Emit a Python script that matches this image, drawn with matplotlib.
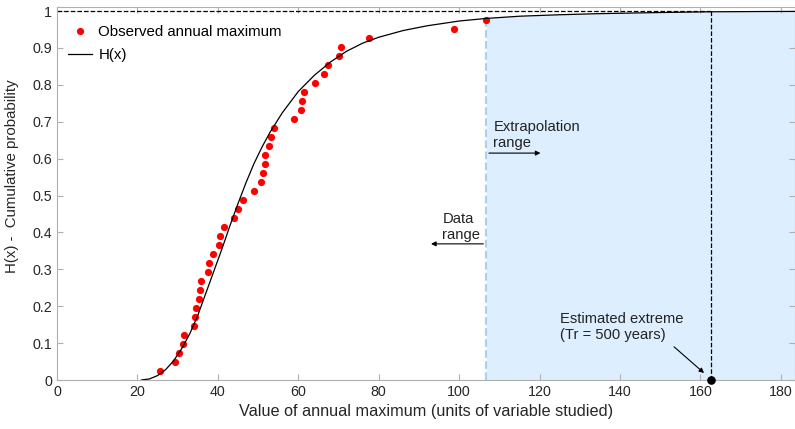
import numpy as np
import matplotlib
matplotlib.use('Agg')
import matplotlib.pyplot as plt

plt.rcParams['font.family'] = ['Liberation Sans', 'DejaVu Sans']
plt.rcParams['font.size'] = 10.6

# Observed annual maxima (sorted) and their plotting positions
obs_x = [25.6, 29.3, 30.3, 31.4, 31.5, 34.0, 34.3, 34.5, 35.3, 35.5,
         35.8, 37.6, 37.9, 38.7, 40.4, 40.6, 41.6, 44.0, 44.9, 46.3,
         49.1, 50.6, 51.3, 51.6, 51.8, 52.6, 53.2, 53.9, 59.0, 60.6,
         60.9, 61.3, 64.1, 66.3, 67.5, 70.1, 70.6, 77.5, 98.8, 106.7]
obs_p = [0.024, 0.049, 0.073, 0.098, 0.122, 0.146, 0.171, 0.195, 0.220, 0.244,
         0.268, 0.293, 0.317, 0.341, 0.366, 0.390, 0.415, 0.439, 0.463, 0.488,
         0.512, 0.537, 0.561, 0.585, 0.610, 0.634, 0.659, 0.683, 0.707, 0.732,
         0.756, 0.780, 0.805, 0.829, 0.854, 0.878, 0.902, 0.927, 0.951, 0.976]

# Fitted distribution H(x)
h_x = [21, 23, 25, 27, 29, 31, 33, 35, 37, 39, 41, 43, 45, 47, 49, 51, 53,
       56, 60, 64, 68, 72, 76, 80, 86, 92, 100, 106.7, 115, 125, 135, 150,
       162.7, 175, 183.5]
h_y = [0.0, 0.003, 0.012, 0.028, 0.052, 0.085, 0.125, 0.175, 0.235, 0.295,
       0.355, 0.418, 0.478, 0.535, 0.587, 0.632, 0.672, 0.724, 0.782, 0.826,
       0.862, 0.891, 0.913, 0.929, 0.947, 0.960, 0.973, 0.980, 0.986, 0.990,
       0.993, 0.996, 0.998, 0.9987, 0.999]

x_max_obs = 106.7
x_extreme = 162.7   # Tr = 500 years

fig = plt.figure(figsize=(7.95, 4.29), dpi=100)
ax = fig.add_axes([0.0717, 0.1142, 0.9283, 0.8695])

hx = np.array(h_x)
hy = np.array(h_y)
mask = hx >= x_max_obs
ax.fill_between(hx[mask], 0, hy[mask], color='#ddeeff', lw=0, zorder=0)
ax.plot([x_max_obs, x_max_obs], [0, 0.980], ls='--', color='#a9d0f2', lw=1.5, zorder=1)

ax.plot([0, x_extreme], [1, 1], ls='--', color='black', lw=0.9, zorder=2)
ax.plot([x_extreme, x_extreme], [0, 1], ls='--', color='black', lw=0.9, zorder=2)

ax.plot(obs_x, obs_p, 'o', color='red', ms=5.2, mec='none', zorder=3,
        label='Observed annual maximum')
ax.plot(h_x, h_y, '-', color='black', lw=0.9, zorder=4, label='H(x)')
ax.plot(x_extreme, 0, 'o', color='black', ms=5.2, zorder=5, clip_on=False)

# annotations
ax.annotate('', xy=(120.9, 0.615), xytext=(x_max_obs, 0.615),
            arrowprops=dict(arrowstyle='-|>', color='black', lw=0.8, mutation_scale=7))
ax.text(108.5, 0.705, 'Extrapolation\nrange', ha='left', va='top', color='#222222')
ax.annotate('', xy=(92.3, 0.369), xytext=(x_max_obs, 0.369),
            arrowprops=dict(arrowstyle='-|>', color='black', lw=0.8, mutation_scale=7))
ax.text(95.8, 0.455, 'Data\nrange', ha='left', va='top', color='#222222')
ax.annotate('', xy=(161.4, 0.014), xytext=(152.9, 0.095),
            arrowprops=dict(arrowstyle='-|>', color='black', lw=0.8, mutation_scale=7))
ax.text(125.1, 0.184, 'Estimated extreme\n(Tr = 500 years)', ha='left', va='top',
        color='#222222')

ax.set_xlim(0, 183.5)
ax.set_ylim(0, 1.011)
ax.set_xticks(np.arange(0, 181, 20))
ax.set_yticks(np.arange(0, 1.01, 0.1))
ax.set_yticklabels(['0', '0.1', '0.2', '0.3', '0.4', '0.5', '0.6', '0.7', '0.8', '0.9', '1'])
for s in ax.spines.values():
    s.set_color('#b0b0b0')
    s.set_linewidth(0.8)
ax.tick_params(direction='in', color='#b0b0b0', labelcolor='#262626', length=4,
               top=True, right=True, labelsize=10.3)

ax.set_xlabel('Value of annual maximum (units of variable studied)', color='#262626',
              fontsize=11.7)
ax.set_ylabel('H(x) -  Cumulative probability', color='#262626', fontsize=10.8)
ax.yaxis.set_label_coords(-0.052, 0.547)

ax.legend(loc='upper left', frameon=False, bbox_to_anchor=(0.0, 0.98),
          handlelength=1.6, handletextpad=0.45, labelspacing=0.6,
          borderaxespad=0.3, fontsize=10.8)

fig.savefig('out.png', dpi=100)
